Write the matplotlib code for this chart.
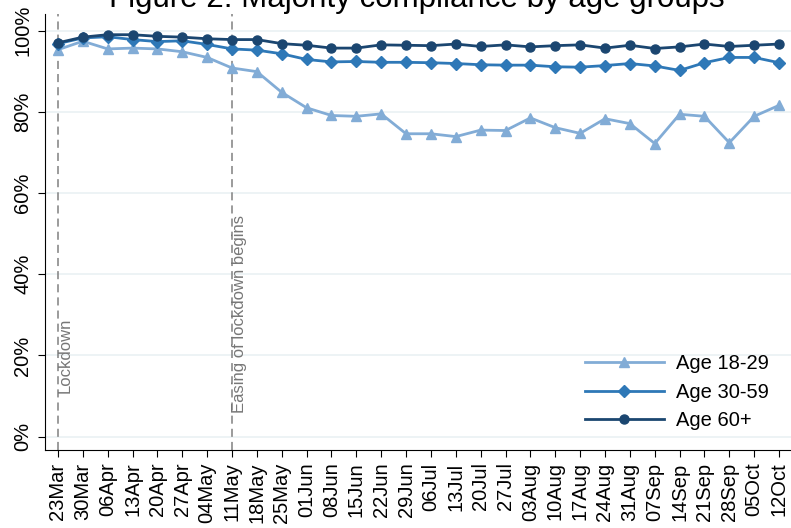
import numpy as np
import matplotlib
matplotlib.use("Agg")
import matplotlib.pyplot as plt

plt.rcParams['font.family'] = ['Liberation Sans', 'DejaVu Sans']

weeks = ["23Mar", "30Mar", "06Apr", "13Apr", "20Apr", "27Apr", "04May", "11May",
         "18May", "25May", "01Jun", "08Jun", "15Jun", "22Jun", "29Jun", "06Jul",
         "13Jul", "20Jul", "27Jul", "03Aug", "10Aug", "17Aug", "24Aug", "31Aug",
         "07Sep", "14Sep", "21Sep", "28Sep", "05Oct", "12Oct"]

age_18_29 = [95.3, 97.4, 95.5, 95.7, 95.5, 94.8, 93.4, 90.8, 89.9, 84.8,
             81.0, 79.1, 78.9, 79.5, 74.6, 74.6, 73.9, 75.5, 75.4, 78.5,
             76.1, 74.7, 78.3, 77.1, 72.2, 79.4, 78.9, 72.4, 78.9, 81.6]
age_30_59 = [96.8, 98.2, 98.5, 97.8, 97.3, 97.5, 96.6, 95.5, 95.2, 94.3,
             92.9, 92.3, 92.4, 92.2, 92.2, 92.1, 91.9, 91.6, 91.5, 91.5,
             91.1, 91.0, 91.4, 91.9, 91.3, 90.2, 92.1, 93.4, 93.4, 92.1]
age_60 = [97.0, 98.4, 99.0, 99.0, 98.6, 98.4, 98.0, 97.8, 97.8, 96.8,
          96.4, 95.7, 95.7, 96.5, 96.4, 96.3, 96.7, 96.1, 96.5, 96.0,
          96.3, 96.5, 95.7, 96.4, 95.6, 96.0, 96.7, 96.1, 96.4, 96.7]

series_labels = ["Age 18-29", "Age 30-59", "Age 60+"]
events = [(0, "Lockdown", 10.8), (7, "Easing of lockdown begins", 5.8)]

x = np.arange(len(weeks))

W, H = 791, 528
fig = plt.figure(figsize=(W/100, H/100), dpi=100)
ax = fig.add_axes([45/W, 1 - 450/H, (W - 45)/W, (450 - 14)/H])

ax.set_ylim(-3.3, 104.1)
ax.set_xlim(-0.52, len(weeks) - 0.52)

for gy in range(0, 101, 20):
    ax.axhline(gy, color='#eaf1f3', lw=1.2, zorder=0)

for xi, lab, ty in events:
    ax.axvline(xi, color='#808080', lw=1.1, linestyle=(0, (5.3, 3.3)), zorder=1)
    ax.text(xi + 0.3, ty, lab, rotation=90, ha='center', va='bottom',
            fontsize=12, color='#777777')

ax.plot(x, age_18_29, color='#82acd6', lw=2.0, marker='^', ms=7.5, label=series_labels[0], zorder=3)
ax.plot(x, age_30_59, color='#2e78b7', lw=2.0, marker='D', ms=6.3, label=series_labels[1], zorder=4)
ax.plot(x, age_60, color='#1b4670', lw=2.0, marker='o', ms=6.5, label=series_labels[2], zorder=5)

ax.set_xticks(x)
ax.set_xticklabels(weeks, rotation=90, fontsize=14.5)
ax.set_yticks(range(0, 101, 20))
ax.set_yticklabels([f"{v}%" for v in range(0, 101, 20)], rotation=90, va='center', fontsize=14.5)
ax.tick_params(axis='both', length=5, width=0.8, pad=4, color='black')

for s in ['top', 'right']:
    ax.spines[s].set_visible(False)
for s in ['left', 'bottom']:
    ax.spines[s].set_linewidth(0.8)

ax.legend(loc='upper left', bbox_to_anchor=(585/W, 1 - 354/H), bbox_transform=fig.transFigure,
          frameon=False, fontsize=14.5, handlelength=3.9, handletextpad=0.6,
          labelspacing=0.48, borderpad=0, borderaxespad=0)

fig.text(416.5/W, 1 - 7/H, "Figure 2: Majority compliance by age groups",
         ha='center', va='baseline', fontsize=22.5)

fig.savefig("out.png", dpi=100)
